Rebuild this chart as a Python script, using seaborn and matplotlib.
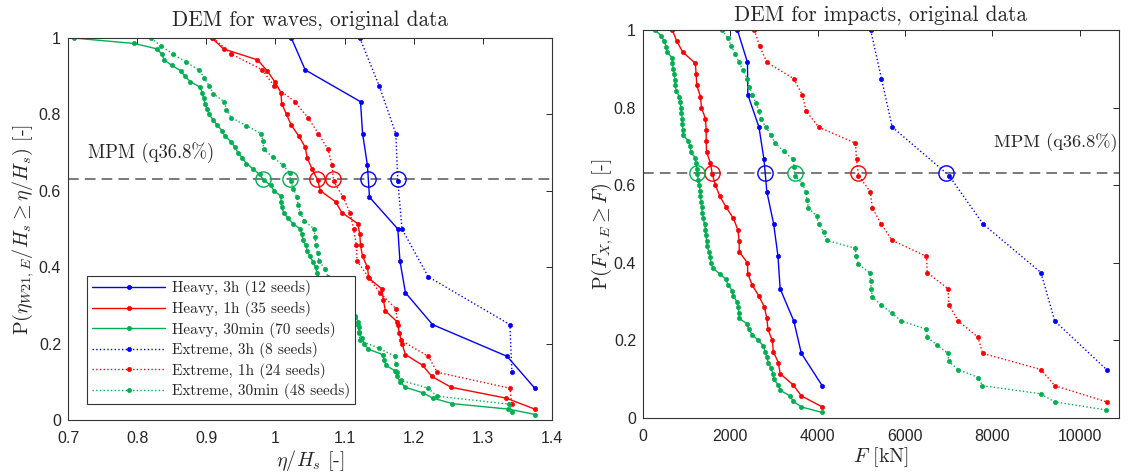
import numpy as np
import matplotlib
matplotlib.use("Agg")
import matplotlib.pyplot as plt
from matplotlib.ticker import FuncFormatter
import seaborn as sns

# ---------------- data: left panel (eta / Hs), sorted descending exceedance ----------
waves_heavy_3h = [1.023, 1.043, 1.123, 1.126, 1.133, 1.136, 1.177, 1.180, 1.188, 1.227, 1.335, 1.375]
waves_heavy_1h = [0.908, 0.925, 0.974, 0.988, 0.999, 1.008, 1.009, 1.016, 1.023, 1.034, 1.043, 1.046,
                  1.053, 1.061, 1.065, 1.087, 1.096, 1.119, 1.122, 1.123, 1.126, 1.133, 1.135, 1.154,
                  1.156, 1.159, 1.176, 1.179, 1.183, 1.188, 1.213, 1.226, 1.254, 1.334, 1.375]
waves_heavy_30min = [0.708, 0.796, 0.829, 0.836, 0.839, 0.850, 0.863, 0.869, 0.877, 0.891, 0.894, 0.896,
                     0.898, 0.901, 0.904, 0.910, 0.916, 0.923, 0.927, 0.936, 0.941, 0.946, 0.952, 0.958,
                     0.968, 0.977, 0.983, 0.993, 0.998, 1.008, 1.008, 1.009, 1.012, 1.018, 1.025, 1.036,
                     1.038, 1.040, 1.044, 1.046, 1.050, 1.054, 1.058, 1.060, 1.064, 1.064, 1.065, 1.082,
                     1.092, 1.100, 1.108, 1.115, 1.120, 1.121, 1.121, 1.125, 1.128, 1.134, 1.155, 1.157,
                     1.160, 1.173, 1.176, 1.180, 1.188, 1.213, 1.228, 1.256, 1.337, 1.376]
waves_ext_3h = [1.122, 1.150, 1.174, 1.177, 1.183, 1.221, 1.339, 1.342]
waves_ext_1h = [0.910, 0.936, 0.981, 0.998, 1.028, 1.047, 1.062, 1.076, 1.082, 1.084, 1.098, 1.108,
                1.113, 1.117, 1.118, 1.134, 1.151, 1.174, 1.177, 1.182, 1.221, 1.234, 1.339, 1.342]
waves_ext_30min = [0.820, 0.834, 0.852, 0.870, 0.889, 0.897, 0.904, 0.910, 0.926, 0.929, 0.936, 0.958,
                   0.979, 0.982, 0.983, 0.997, 1.011, 1.021, 1.022, 1.026, 1.031, 1.033, 1.036, 1.042,
                   1.056, 1.057, 1.059, 1.061, 1.063, 1.071, 1.076, 1.082, 1.083, 1.095, 1.110, 1.115,
                   1.119, 1.121, 1.122, 1.150, 1.173, 1.174, 1.176, 1.181, 1.221, 1.233, 1.338, 1.342]

# ---------------- data: right panel (F in kN) ----------------
imp_heavy_3h = [2163, 2393, 2401, 2656, 2771, 2837, 2993, 3092, 3141, 3454, 3627, 4104]
imp_heavy_1h = [674, 773, 913, 1201, 1217, 1234, 1316, 1340, 1431, 1447, 1447, 1456, 1546, 1587,
                1661, 1760, 1908, 2072, 2171, 2204, 2204, 2393, 2401, 2500, 2656, 2780, 2837, 2862,
                2961, 2985, 3100, 3141, 3437, 3627, 4104]
imp_heavy_30min = [281, 410, 486, 532, 547, 669, 676, 692, 714, 730, 737, 760, 836, 851, 866, 882,
                   897, 904, 912, 927, 1041, 1079, 1094, 1193, 1216, 1231, 1246, 1269, 1292, 1307,
                   1315, 1333, 1345, 1360, 1379, 1410, 1432, 1447, 1455, 1462, 1515, 1538, 1561, 1598,
                   1765, 1902, 1947, 2045, 2068, 2152, 2182, 2197, 2197, 2386, 2417, 2508, 2644, 2758,
                   2795, 2833, 2871, 2932, 2977, 2992, 3099, 3144, 3364, 3447, 3629, 4104]
imp_ext_3h = [5214, 5461, 5707, 7008, 7788, 9113, 9430, 10615]
imp_ext_1h = [2549, 2673, 2837, 3450, 3650, 3735, 4020, 4866, 4890, 4935, 5205, 5252, 5455, 5702,
              6490, 6510, 6985, 7005, 7220, 7670, 7780, 9113, 9430, 10615]
imp_ext_30min = [1807, 1946, 2023, 2115, 2200, 2292, 2384, 2430, 2507, 2584, 2653, 2700, 2815, 2930,
                 3030, 3222, 3430, 3461, 3475, 3651, 3727, 3758, 3788, 3977, 4023, 4136, 4205, 4856,
                 4886, 4932, 5189, 5212, 5227, 5250, 5447, 5697, 5917, 6485, 6508, 6742, 6985, 7000,
                 7220, 7682, 7773, 9106, 9424, 10606]

labels = ["Heavy, 3h (12 seeds)", "Heavy, 1h (35 seeds)", "Heavy, 30min (70 seeds)",
          "Extreme, 3h (8 seeds)", "Extreme, 1h (24 seeds)", "Extreme, 30min (48 seeds)"]
colors = ["#0000ff", "#ff0000", "#00b050", "#0000ff", "#ff0000", "#00b050"]
styles = ["-", "-", "-", ":", ":", ":"]
mpm_level = 1 - np.exp(-1)

left_series = [waves_heavy_3h, waves_heavy_1h, waves_heavy_30min, waves_ext_3h, waves_ext_1h, waves_ext_30min]
right_series = [imp_heavy_3h, imp_heavy_1h, imp_heavy_30min, imp_ext_3h, imp_ext_1h, imp_ext_30min]

sns.set_theme(style="white")
plt.rcParams["font.family"] = ["Liberation Sans", "DejaVu Sans"]
plt.rcParams["mathtext.fontset"] = "cm"
plt.rcParams["axes.unicode_minus"] = False

SERIF = "cmr10"
TXT = "#262626"

fig = plt.figure(figsize=(11.28, 4.76), dpi=100)
axL = fig.add_axes([0.0603, 0.1176, 0.4291, 0.8025])
axR = fig.add_axes([0.5700, 0.1218, 0.4220, 0.8151])


def draw(ax, series, with_label):
    for vals, lab, c, ls in zip(series, labels, colors, styles):
        n = len(vals)
        x = np.asarray(vals, dtype=float)
        y = 1 - np.arange(n) / n  # exceedance probability of sorted seeds
        sns.lineplot(x=x, y=y, ax=ax, color=c, linestyle=ls, lw=1.0, marker=".",
                     markersize=6, markeredgecolor=c, markeredgewidth=0.5,
                     sort=False, estimator=None, label=lab if with_label else None,
                     legend=False)
    ax.axhline(mpm_level, color="#555555", ls=(0, (7, 4)), lw=1.1, zorder=1)
    for vals, c in zip(series, colors):
        n = len(vals)
        y = 1 - np.arange(n) / n
        xm = np.interp(mpm_level, y[::-1], np.asarray(vals, dtype=float)[::-1])
        ax.plot([xm], [mpm_level], marker="o", ms=11, mfc="none", mec=c, mew=1.0, ls="none")


draw(axL, left_series, True)
draw(axR, right_series, False)

fmt = FuncFormatter(lambda v, p: "%g" % round(v, 6))
for ax in (axL, axR):
    ax.set_ylim(0, 1)
    ax.set_yticks([0, 0.2, 0.4, 0.6, 0.8, 1.0])
    ax.yaxis.set_major_formatter(fmt)
    ax.xaxis.set_major_formatter(fmt)
    ax.tick_params(direction="in", top=True, right=True, length=4, width=0.7,
                   colors=TXT, labelsize=11.5, pad=5)
    ax.tick_params(axis="x", pad=8)
    for s in ax.spines.values():
        s.set_color("#333333")
        s.set_linewidth(0.8)
    ax.grid(False)
    ax.set_facecolor("white")

axL.set_xlim(0.7, 1.4)
axL.set_xticks([0.7, 0.8, 0.9, 1.0, 1.1, 1.2, 1.3, 1.4])
axR.set_xlim(0, 10900)
axR.set_xticks([0, 2000, 4000, 6000, 8000, 10000])

LBL = 14.5
axL.set_title("DEM for waves, original data", fontfamily=SERIF, fontsize=15.3, color=TXT, pad=9)
axR.set_title("DEM for impacts, original data", fontfamily=SERIF, fontsize=15.3, color=TXT, pad=7)
axL.set_xlabel(r"$\eta/H_s$ [-]", fontfamily=SERIF, fontsize=LBL, color=TXT, labelpad=1)
axR.set_xlabel(r"$F$ [kN]", fontfamily=SERIF, fontsize=LBL, color=TXT, labelpad=1)
axL.set_ylabel(r"P$(\eta_{W21,E}/H_s \geq \eta/H_s)$ [-]", fontfamily=SERIF, fontsize=LBL,
               color=TXT, labelpad=2)
axR.set_ylabel(r"P$(F_{X,E} \geq F)$ [-]", fontfamily=SERIF, fontsize=LBL, color=TXT, labelpad=-1)

axL.text(0.729, 0.70, "MPM (q36.8%)", fontfamily=SERIF, fontsize=13.5, color=TXT,
         ha="left", va="center")
axR.text(0.997, 0.711, "MPM (q36.8%)", transform=axR.transAxes,
         fontfamily=SERIF, fontsize=13.2, color=TXT, ha="right", va="center")

leg = axL.legend(loc="lower left", bbox_to_anchor=(0.024, 0.022), frameon=True, fancybox=False,
                 framealpha=1, edgecolor="#333333", handlelength=4.8, handletextpad=0.45,
                 borderpad=0.3, labelspacing=0.3, prop={"family": SERIF, "size": 11})
leg.get_frame().set_linewidth(0.8)

fig.savefig("out.png", dpi=100, facecolor="white")
